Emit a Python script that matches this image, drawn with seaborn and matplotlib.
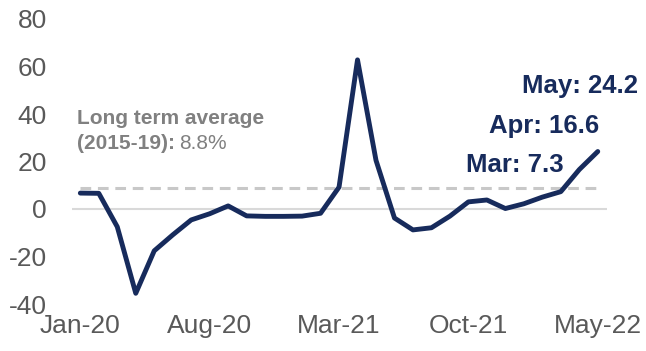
import matplotlib
matplotlib.use("Agg")
import matplotlib.pyplot as plt
import seaborn as sns
import pandas as pd

months = ["Jan-20","Feb-20","Mar-20","Apr-20","May-20","Jun-20","Jul-20","Aug-20","Sep-20","Oct-20",
          "Nov-20","Dec-20","Jan-21","Feb-21","Mar-21","Apr-21","May-21","Jun-21","Jul-21","Aug-21",
          "Sep-21","Oct-21","Nov-21","Dec-21","Jan-22","Feb-22","Mar-22","Apr-22","May-22"]
values = [6.7, 6.6, -7.5, -35.5, -17.6, -10.9, -4.6, -2.0, 1.3, -2.9,
          -3.1, -3.1, -3.0, -1.8, 9.2, 62.8, 20.5, -3.8, -8.8, -7.9,
          -3.0, 3.0, 3.8, 0.2, 2.2, 5.0, 7.3, 16.6, 24.2]
tick_labels = ["Jan-20", "Aug-20", "Mar-21", "Oct-21", "May-22"]
long_term_avg = 8.8

sns.set_theme(style="white")
plt.rcParams['font.family'] = ['Liberation Sans', 'DejaVu Sans']
plt.rcParams['axes.unicode_minus'] = False

navy = "#172b5c"
grey_txt = "#595959"

df = pd.DataFrame({"idx": range(len(months)), "month": months, "value": values})

fig = plt.figure(figsize=(6.46, 3.51), dpi=100)
ax = fig.add_axes([72/646, 1-304/351, (607-72)/646, (304-19)/351])

ax.axhline(0, color="#d9d9d9", lw=1.5, zorder=1)
ax.plot([0, len(months)-1], [long_term_avg, long_term_avg], color="#c8c8c8", lw=2.2,
        ls=(0, (3.5, 2.2)), zorder=2)
sns.lineplot(data=df, x="idx", y="value", ax=ax, color=navy, lw=3.5, zorder=3)

ax.set_xlim(-0.45, 28.5)
ax.set_ylim(-40, 80)
ax.set_yticks([-40, -20, 0, 20, 40, 60, 80])
ax.set_xticks([months.index(t) for t in tick_labels])
ax.set_xticklabels(tick_labels)
ax.tick_params(axis="both", labelsize=19, colors=grey_txt, length=0)
ax.tick_params(axis="y", pad=18)
ax.tick_params(axis="x", pad=7)
ax.set_xlabel("")
ax.set_ylabel("")
for s in ax.spines.values():
    s.set_visible(False)

fs_avg = 15
ax.text(-0.16, 35.8, "Long term average", fontsize=fs_avg, fontweight="bold", color="#808080", va="baseline")
t1 = ax.text(-0.16, 25.3, "(2015-19):", fontsize=fs_avg, fontweight="bold", color="#808080", va="baseline")
fig.canvas.draw()
bb = t1.get_window_extent()
x_end = ax.transData.inverted().transform((bb.x1, bb.y0))[0]
ax.text(x_end + 0.2, 25.3, "8.8%", fontsize=fs_avg, color="#808080", va="baseline")

fs_lab = 18.5
ax.text(30.2, 48.8, "May: 24.2", fontsize=fs_lab, fontweight="bold", color=navy, ha="right", va="baseline")
ax.text(28.06, 32.0, "Apr: 16.6", fontsize=fs_lab, fontweight="bold", color=navy, ha="right", va="baseline")
ax.text(26.16, 15.6, "Mar: 7.3", fontsize=fs_lab, fontweight="bold", color=navy, ha="right", va="baseline")

fig.savefig("out.png", dpi=100)
